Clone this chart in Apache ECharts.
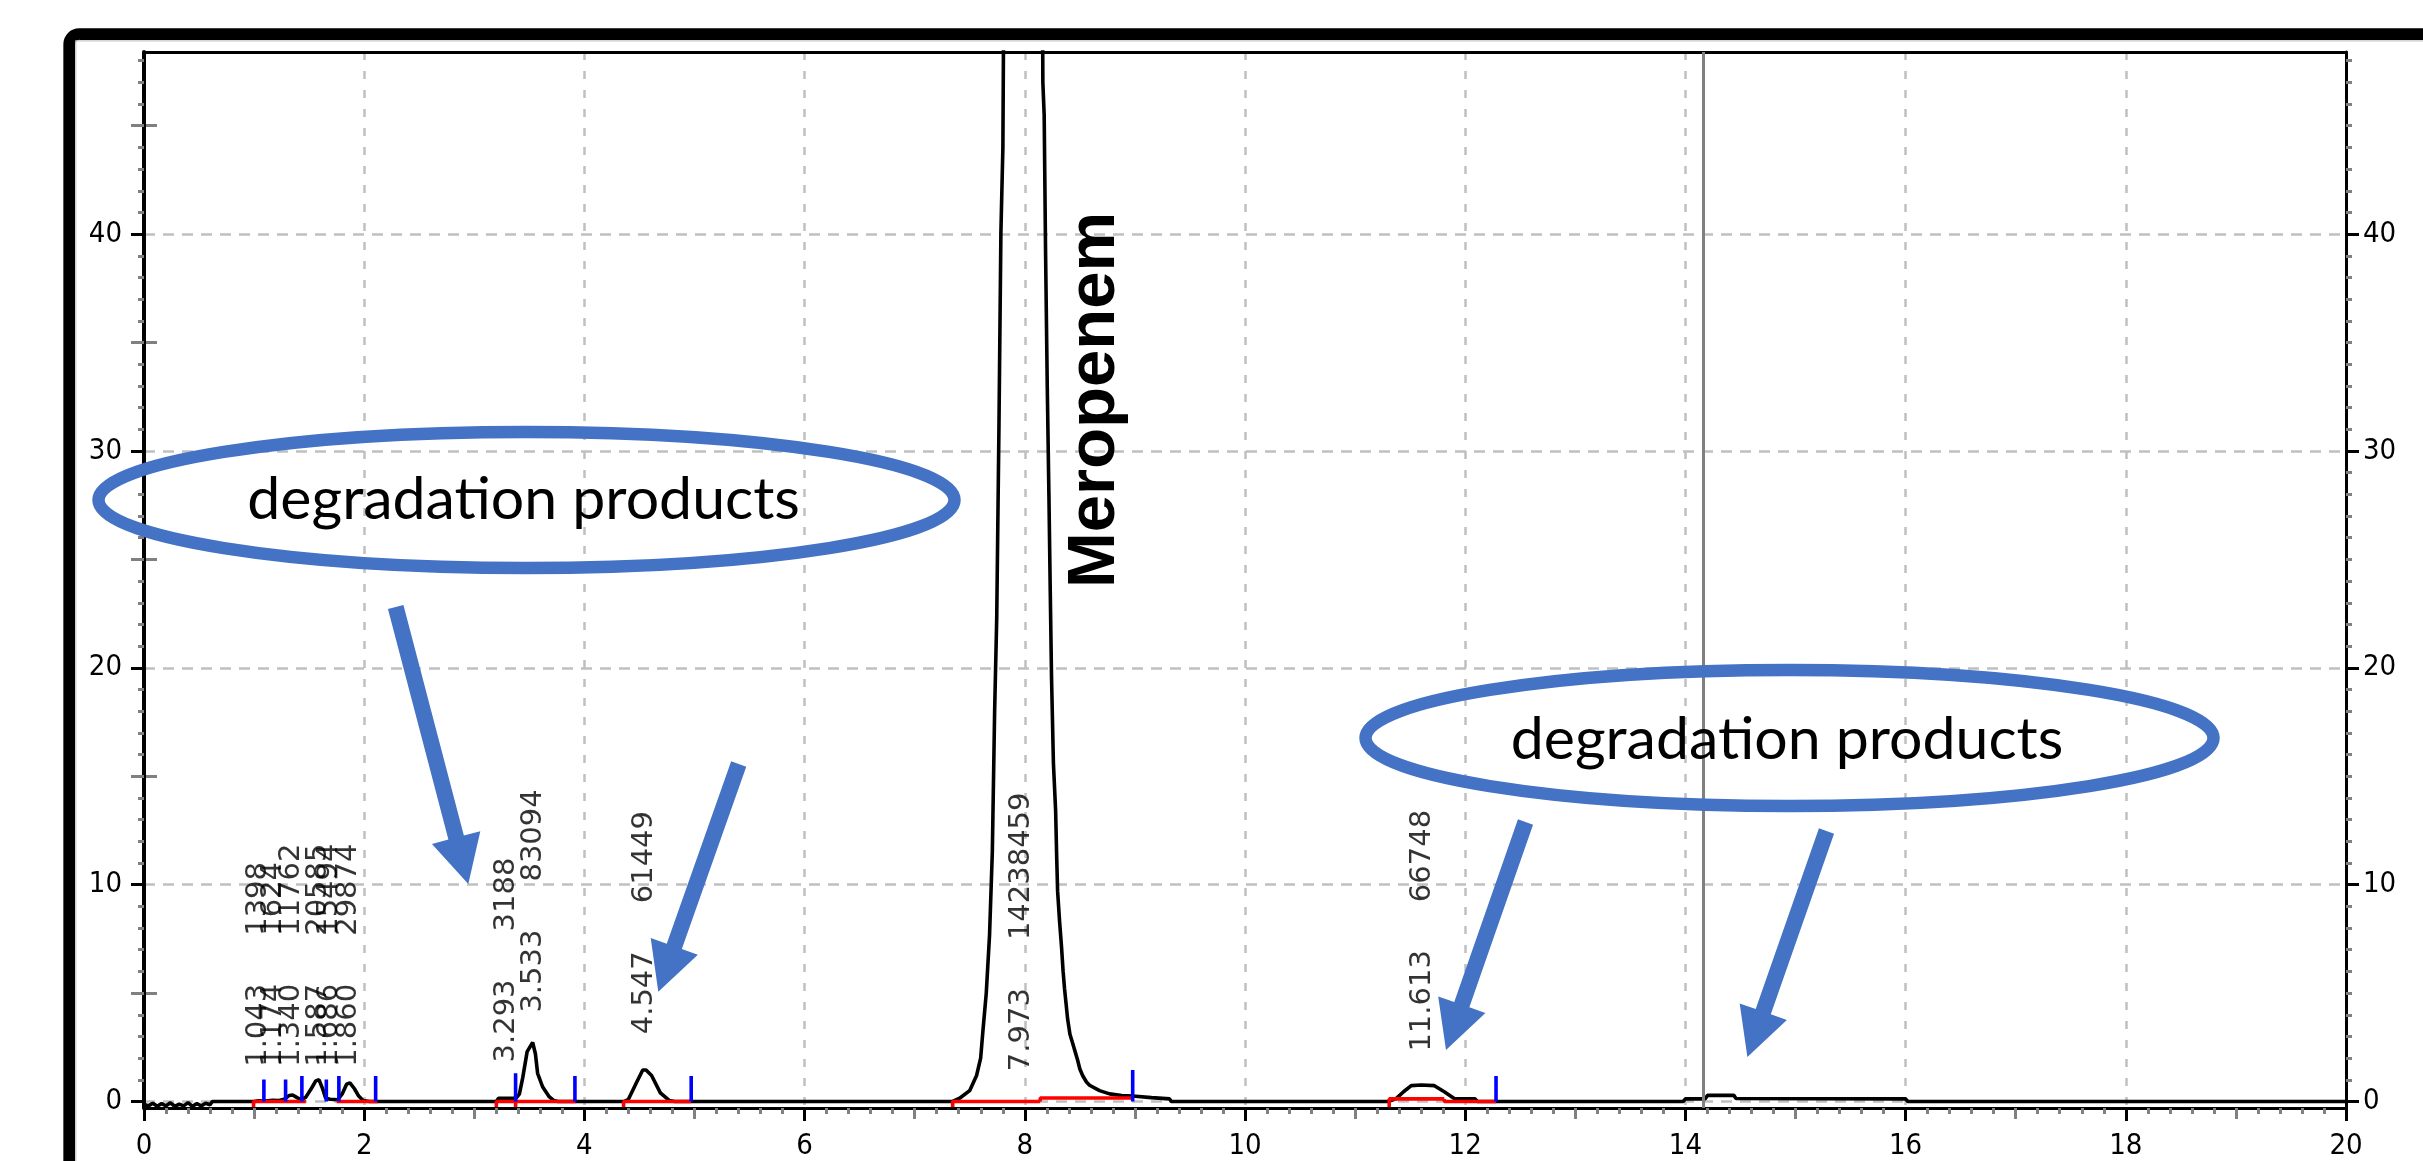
<!DOCTYPE html>
<html>
<head>
<meta charset="utf-8">
<script src="https://cdn.jsdelivr.net/npm/echarts@6/dist/echarts.min.js"></script>
<style>
html,body{margin:0;padding:0;background:#fff;}
#chart{width:2423px;height:1161px;}
</style>
</head>
<body>
<div id="chart"></div>
<script>
// ---------------- DATA ----------------
// Axis ranges / ticks
const xRange = [0, 20];
const yRange = [-0.3, 48.4];
const yMajorTicks = [0, 10, 20, 30, 40];

// Detector trace: retention time (min) and signal (mAU)
const traceTime = [
  0, 0.04, 0.08, 0.12, 0.16, 0.2, 0.24, 0.28, 0.32, 0.36, 0.40, 0.44, 0.48, 0.52, 0.56, 0.6, 0.62,
  1.0, 1.04, 1.1, 1.17, 1.22, 1.28, 1.32, 1.35, 1.39, 1.43, 1.47, 1.52, 1.56, 1.59, 1.62, 1.65, 1.69,
  1.76, 1.8, 1.84, 1.87, 1.91, 1.95, 1.99, 2.05,
  3.2, 3.22, 3.38, 3.41, 3.44, 3.48, 3.53, 3.555, 3.575, 3.62, 3.68, 3.72, 3.76,
  4.36, 4.4, 4.47, 4.53, 4.56, 4.61, 4.69, 4.77, 4.82,
  7.345, 7.408, 7.499, 7.562, 7.599, 7.617, 7.65, 7.68, 7.705, 7.726, 7.745, 7.765, 7.783, 7.801, 7.81,
  7.973,
  8.16, 8.164, 8.176, 8.189, 8.204, 8.219, 8.231, 8.243, 8.26, 8.28, 8.29, 8.298, 8.316, 8.334, 8.348,
  8.361, 8.375, 8.389, 8.41, 8.434, 8.457, 8.48, 8.5, 8.525, 8.56, 8.588, 8.679, 8.77, 8.88, 8.979,
  9.15, 9.315, 9.33,
  11.3, 11.37, 11.44, 11.51, 11.6, 11.72, 11.81, 11.9, 12.09, 12.11,
  13.98, 14.0, 14.18, 14.2, 14.44, 14.46, 16.0, 16.02, 20
];
const traceSignal = [
  -0.12, -0.2, -0.08, -0.22, -0.1, -0.2, -0.06, -0.22, -0.12, -0.2, -0.05, -0.22, -0.1, -0.2, -0.08, -0.15, 0,
  0, 0.03, 0.02, 0.06, 0.04, 0.12, 0.28, 0.3, 0.18, 0.08, 0.2, 0.6, 0.95, 1.0, 0.62, 0.15, 0.1,
  0.08, 0.35, 0.8, 0.86, 0.6, 0.25, 0.05, 0,
  0, 0.15, 0.15, 0.35, 1.1, 2.3, 2.72, 2.2, 1.3, 0.68, 0.22, 0.05, 0,
  0, 0.1, 0.84, 1.45, 1.45, 1.2, 0.4, 0.05, 0,
  0, 0.15, 0.5, 1.2, 2.0, 3.1, 5.0, 7.7, 11.5, 18, 22.3, 31, 40.1, 44, 52,
  330,
  52, 47, 45.5, 39, 33, 28, 23.6, 19.5, 15.6, 13.4, 11.2, 9.7, 8.3, 7.1, 6,
  5.2, 4.5, 3.8, 3.1, 2.7, 2.3, 1.9, 1.5, 1.2, 0.9, 0.75, 0.5, 0.35, 0.28, 0.25,
  0.18, 0.12, 0,
  0, 0.12, 0.45, 0.73, 0.76, 0.73, 0.45, 0.14, 0.12, 0,
  0, 0.12, 0.12, 0.28, 0.28, 0.14, 0.12, 0, 0
];

// Integration baselines (red): start, end, level, start tick
const baseStart = [0.995, 1.75, 3.20, 3.375, 4.356, 7.345, 8.14, 11.31, 11.81];
const baseEnd   = [1.47, 2.12, 3.375, 3.92, 4.97, 8.14, 8.98, 11.81, 12.28];
const baseLevel = [0, 0, 0, 0, 0, 0, 0.16, 0.12, 0];
const baseTick  = [1, 0, 1, 1, 1, 1, 0, 1, 0];

// Peak boundary markers (blue)
const markerTime   = [1.089, 1.286, 1.434, 1.656, 1.77, 2.104, 3.375, 3.914, 4.97, 8.98, 12.28];
const markerHeight = [1.02, 1.02, 1.18, 1.02, 1.18, 1.18, 1.3, 1.18, 1.18, 1.45, 1.18];

// Peak annotations: retention time and area
const peakTimes = ['1.043', '1.174', '1.340', '1.587', '1.686', '1.860', '3.293', '3.533', '4.547', '7.973', '11.613'];
const peakAreas = ['1398', '1624', '11762', '20585', '15494', '29874', '3188', '83094', '61449', '14238459', '66748'];

// Vertical reference line (event marker)
const eventTime = 14.165;

// ---------------- LAYOUT (label anchors, annotations) ----------------
const labelBaseY = [1.6, 1.6, 1.6, 1.6, 1.6, 1.6, 1.8, 4.1, 3.1, 1.4, 2.3];

// ---------------- BUILD ----------------
const traceData = traceTime.map((t, i) => [t, traceSignal[i]]);

const redData = [];
for (let i = 0; i < baseStart.length; i++) {
  if (baseTick[i]) {
    redData.push([baseStart[i], yRange[0] + 0.05]);
  } else if (i > 0 && baseEnd[i - 1] === baseStart[i]) {
    redData.push([baseStart[i], baseLevel[i - 1]]);
  }
  redData.push([baseStart[i], baseLevel[i]]);
  redData.push([baseEnd[i], baseLevel[i]]);
  redData.push([baseEnd[i], '-']);
}

const blueData = [];
markerTime.forEach((t, i) => {
  blueData.push([t, 0]);
  blueData.push([t, markerHeight[i]]);
  blueData.push([t, '-']);
});

const labelData = peakTimes.map((t, i) => ({
  value: [parseFloat(t), labelBaseY[i]],
  rt: t,
  area: peakAreas[i]
}));

const BLUE = '#4472C4';
function arrowPoints(tx, ty, px, py) {
  const shaft = 16, headW = 50, headL = 48;
  const dx = px - tx, dy = py - ty, L = Math.hypot(dx, dy);
  const ux = dx / L, uy = dy / L, nx = -uy, ny = ux;
  const hx = px - ux * headL, hy = py - uy * headL;
  return [
    [tx + nx * shaft / 2, ty + ny * shaft / 2],
    [hx + nx * shaft / 2, hy + ny * shaft / 2],
    [hx + nx * headW / 2, hy + ny * headW / 2],
    [px, py],
    [hx - nx * headW / 2, hy - ny * headW / 2],
    [hx - nx * shaft / 2, hy - ny * shaft / 2],
    [tx - nx * shaft / 2, ty - ny * shaft / 2]
  ];
}
const arrows = [
  [395.7, 607, 468.3, 884],
  [738.7, 764, 658.3, 991.7],
  [1525.5, 822, 1446, 1050],
  [1826.5, 831, 1747.4, 1057]
];

const axisFont = '"Liberation Sans Narrow", "Arial Narrow", "DejaVu Sans Condensed", sans-serif';
const labelFont = '"DejaVu Sans", "Liberation Sans", sans-serif';
const GRAY = '#808080';

const yCommon = {
  type: 'value', min: yRange[0], max: yRange[1], splitNumber: 5
};

const option = {
  animation: false,
  backgroundColor: '#ffffff',
  grid: { left: 144, right: 77, top: 52, bottom: 53 },
  xAxis: [
    {
      type: 'value', min: xRange[0], max: xRange[1], interval: 2, position: 'bottom', z: 2,
      axisLine: { show: true, onZero: false, lineStyle: { color: '#000', width: 3 } },
      axisTick: { show: true, length: 13, lineStyle: { color: '#000', width: 3 } },
      minorTick: { show: true, splitNumber: 10, length: 6, lineStyle: { color: GRAY, width: 3 } },
      axisLabel: { show: true, margin: 24, color: '#000', fontSize: 29, fontFamily: axisFont },
      splitLine: { show: true, lineStyle: { color: '#c0c0c0', width: 2.5, type: [8, 11] } }
    },
    {
      type: 'value', min: xRange[0], max: xRange[1], interval: 1, position: 'bottom', z: 1,
      axisLine: { show: false, onZero: false },
      axisTick: { show: true, length: 11, lineStyle: { color: GRAY, width: 3 } },
      axisLabel: { show: false },
      splitLine: { show: false }
    },
    {
      type: 'value', min: xRange[0], max: xRange[1], interval: 2, position: 'top', z: 2,
      axisLine: { show: true, onZero: false, lineStyle: { color: '#000', width: 3 } },
      axisTick: { show: false }, axisLabel: { show: false }, splitLine: { show: false }
    }
  ],
  yAxis: [
    Object.assign({}, yCommon, {
      position: 'left', z: 2,
      axisLine: { show: true, onZero: false, lineStyle: { color: '#000', width: 4 } },
      axisTick: { show: true, customValues: yMajorTicks, length: 13, lineStyle: { color: '#000', width: 3 } },
      minorTick: { show: true, splitNumber: 10, length: 6, lineStyle: { color: GRAY, width: 3 } },
      axisLabel: { show: true, customValues: yMajorTicks, margin: 22, color: '#000', fontSize: 29, fontFamily: axisFont },
      splitLine: { show: true, lineStyle: { color: '#c0c0c0', width: 2.5, type: [11, 8] } }
    }),
    Object.assign({}, yCommon, {
      position: 'left', z: 1,
      axisLine: { show: false },
      axisTick: { show: false },
      minorTick: { show: true, splitNumber: 2, length: 13, lineStyle: { color: GRAY, width: 3 } },
      axisLabel: { show: false }, splitLine: { show: false }
    }),
    Object.assign({}, yCommon, {
      position: 'right', z: 2,
      axisLine: { show: true, onZero: false, lineStyle: { color: '#000', width: 3 } },
      axisTick: { show: true, customValues: yMajorTicks, length: 13, lineStyle: { color: '#000', width: 3 } },
      minorTick: { show: true, splitNumber: 10, length: 6, lineStyle: { color: GRAY, width: 3 } },
      axisLabel: { show: true, customValues: yMajorTicks, margin: 17, color: '#000', fontSize: 29, fontFamily: axisFont },
      splitLine: { show: false }
    }),
    Object.assign({}, yCommon, {
      position: 'right', z: 1,
      axisLine: { show: false },
      axisTick: { show: false },
      minorTick: { show: true, splitNumber: 2, length: 13, lineStyle: { color: GRAY, width: 3 } },
      axisLabel: { show: false }, splitLine: { show: false }
    })
  ],
  series: [
    {
      type: 'line', name: 'trace', xAxisIndex: 0, yAxisIndex: 0, z: 3,
      data: traceData, symbol: 'none', showSymbol: false, smooth: false,
      lineStyle: { color: '#000', width: 3.6 },
      markLine: {
        silent: true, symbol: 'none', label: { show: false },
        lineStyle: { color: GRAY, width: 3, type: 'solid' },
        data: [{ xAxis: eventTime }]
      }
    },
    {
      type: 'line', name: 'baseline', xAxisIndex: 0, yAxisIndex: 0, z: 4,
      data: redData, symbol: 'none', showSymbol: false, connectNulls: false,
      lineStyle: { color: '#ff0000', width: 3.6 }
    },
    {
      type: 'line', name: 'markers', xAxisIndex: 0, yAxisIndex: 0, z: 5,
      data: blueData, symbol: 'none', showSymbol: false, connectNulls: false,
      lineStyle: { color: '#0000ff', width: 3.6 }
    },
    {
      type: 'scatter', name: 'labels', xAxisIndex: 0, yAxisIndex: 0, z: 6,
      data: labelData, symbolSize: 0, silent: true,
      label: {
        show: true, position: 'inside', rotate: 90, align: 'left', verticalAlign: 'middle',
        formatter: p => '{t|' + p.data.rt + '}{s| }{a|' + p.data.area + '}',
        rich: {
          t: { fontSize: 29, fontFamily: labelFont, color: '#000' },
          s: { width: 48, fontSize: 29 },
          a: { fontSize: 29, fontFamily: labelFont, color: '#000' }
        }
      }
    }
  ],
  graphic: [
    { type: 'rect', z: 100, shape: { x: 69.2, y: 34.2, width: 3000, height: 2000, r: 10 },
      style: { fill: 'none', stroke: '#000', lineWidth: 11.7 } },
    { type: 'rect', z: 100, shape: { x: 75.8, y: 40.8, width: 3000, height: 2000 },
      style: { fill: 'none', stroke: '#c8c8c8', lineWidth: 1.2 } },
    { type: 'ellipse', z: 100, shape: { cx: 526.5, cy: 500, rx: 428, ry: 68 },
      style: { fill: 'none', stroke: BLUE, lineWidth: 12.5 } },
    { type: 'ellipse', z: 100, shape: { cx: 1789.5, cy: 738, rx: 424, ry: 68 },
      style: { fill: 'none', stroke: BLUE, lineWidth: 12.5 } },
    { type: 'text', z: 101, x: 523.6, y: 500,
      style: { text: 'degradation products', fontSize: 59, fontFamily: 'Lato, "Open Sans", sans-serif', fill: '#000', align: 'center', verticalAlign: 'middle' } },
    { type: 'text', z: 101, x: 1787, y: 740,
      style: { text: 'degradation products', fontSize: 59, fontFamily: 'Lato, "Open Sans", sans-serif', fill: '#000', align: 'center', verticalAlign: 'middle' } },
    { type: 'text', z: 101, x: 1096, y: 400, rotation: Math.PI / 2,
      style: { text: 'Meropenem', fontSize: 67, fontWeight: 'bold', fontFamily: '"Liberation Sans", Arial, sans-serif', fill: '#000', align: 'center', verticalAlign: 'middle' } }
  ].concat(arrows.map(a => ({
    type: 'polygon', z: 100, shape: { points: arrowPoints(a[0], a[1], a[2], a[3]) },
    style: { fill: BLUE, stroke: 'none' }
  })))
};

const chart = echarts.init(document.getElementById('chart'), null, { renderer: 'canvas' });
chart.setOption(option);
</script>
</body>
</html>
